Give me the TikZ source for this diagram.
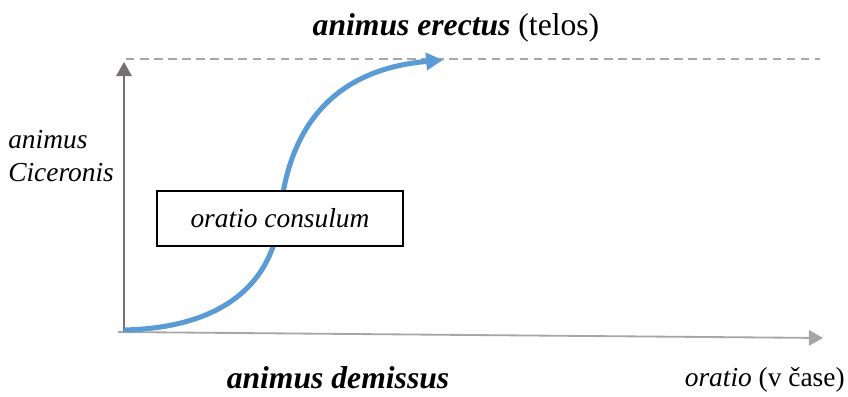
\documentclass[tikz,border=0pt]{standalone}
\usepackage{fontspec}
\setmainfont{Liberation Serif}
\usetikzlibrary{arrows.meta, positioning}
\definecolor{axisgray}{HTML}{767171}
\definecolor{linegray}{HTML}{A6A6A6}
\definecolor{curveblue}{HTML}{5B9BD5}

\begin{document}
\begin{tikzpicture}[
    x=0.025cm, y=-0.025cm,
    yaxis/.style={
        -{Triangle[length=10pt, width=11pt]},
        line width=1.3pt,
        draw=axisgray
    },
    xaxis/.style={
        -{Triangle[length=10pt, width=11pt]},
        line width=1.3pt,
        draw=linegray
    },
    goal_line/.style={
        dashed,
        dash pattern=on 6pt off 4pt,
        line width=1pt,
        draw=linegray
    },
    rise/.style={
        -{Triangle[length=12pt, width=12pt]},
        line width=3.6pt,
        draw=curveblue
    },
    speech/.style={
        rectangle,
        draw=black,
        fill=white,
        line width=0.9pt,
        minimum width=6.15cm,
        minimum height=1.375cm,
        font=\fontsize{19.5}{23}\selectfont\itshape
    },
    label_text/.style={
        font=\fontsize{19.5}{20}\selectfont,
        inner sep=0pt
    },
    title_text/.style={
        font=\fontsize{22.5}{26}\selectfont,
        inner sep=0pt
    }
]

    \useasboundingbox (0,0) rectangle (848,396);

    % AXES
    \coordinate (origin) at (124,332);
    \coordinate (ytop) at (124,62);
    \coordinate (xstart) at (118,332);
    \coordinate (xend) at (823,338);
    \coordinate (goalstart) at (126,59);
    \coordinate (goalend) at (820,59);
    \coordinate (start) at (124,330);
    \coordinate (telos) at (443,60);

    \draw[goal_line] (goalstart) -- (goalend);
    \draw[yaxis] (origin) -- (ytop);
    \draw[xaxis] (xstart) -- (xend);

    % RISING CURVE
    \draw[rise] (start) .. controls (215,328) and (272,290) .. (280,215)
        .. controls (290,110) and (350,68) .. (telos);

    % BOX
    \node[speech] (consul) at (280,218.5) {oratio consulum};

    % LABELS
    \node[title_text] (erectus) at (456,28) {\textbf{\textit{animus erectus}} (telos)};
    \node[label_text, anchor=west, align=left] (cicero) at (8,156) {\textit{animus}\\[4pt]\textit{Ciceronis}};
    \node[title_text] (demissus) at (338,378) {\textbf{\textit{animus demissus}}};
    \node[label_text, anchor=east] (oratio) at (845,380) {\textit{oratio} (v čase)};

\end{tikzpicture}
\end{document}
